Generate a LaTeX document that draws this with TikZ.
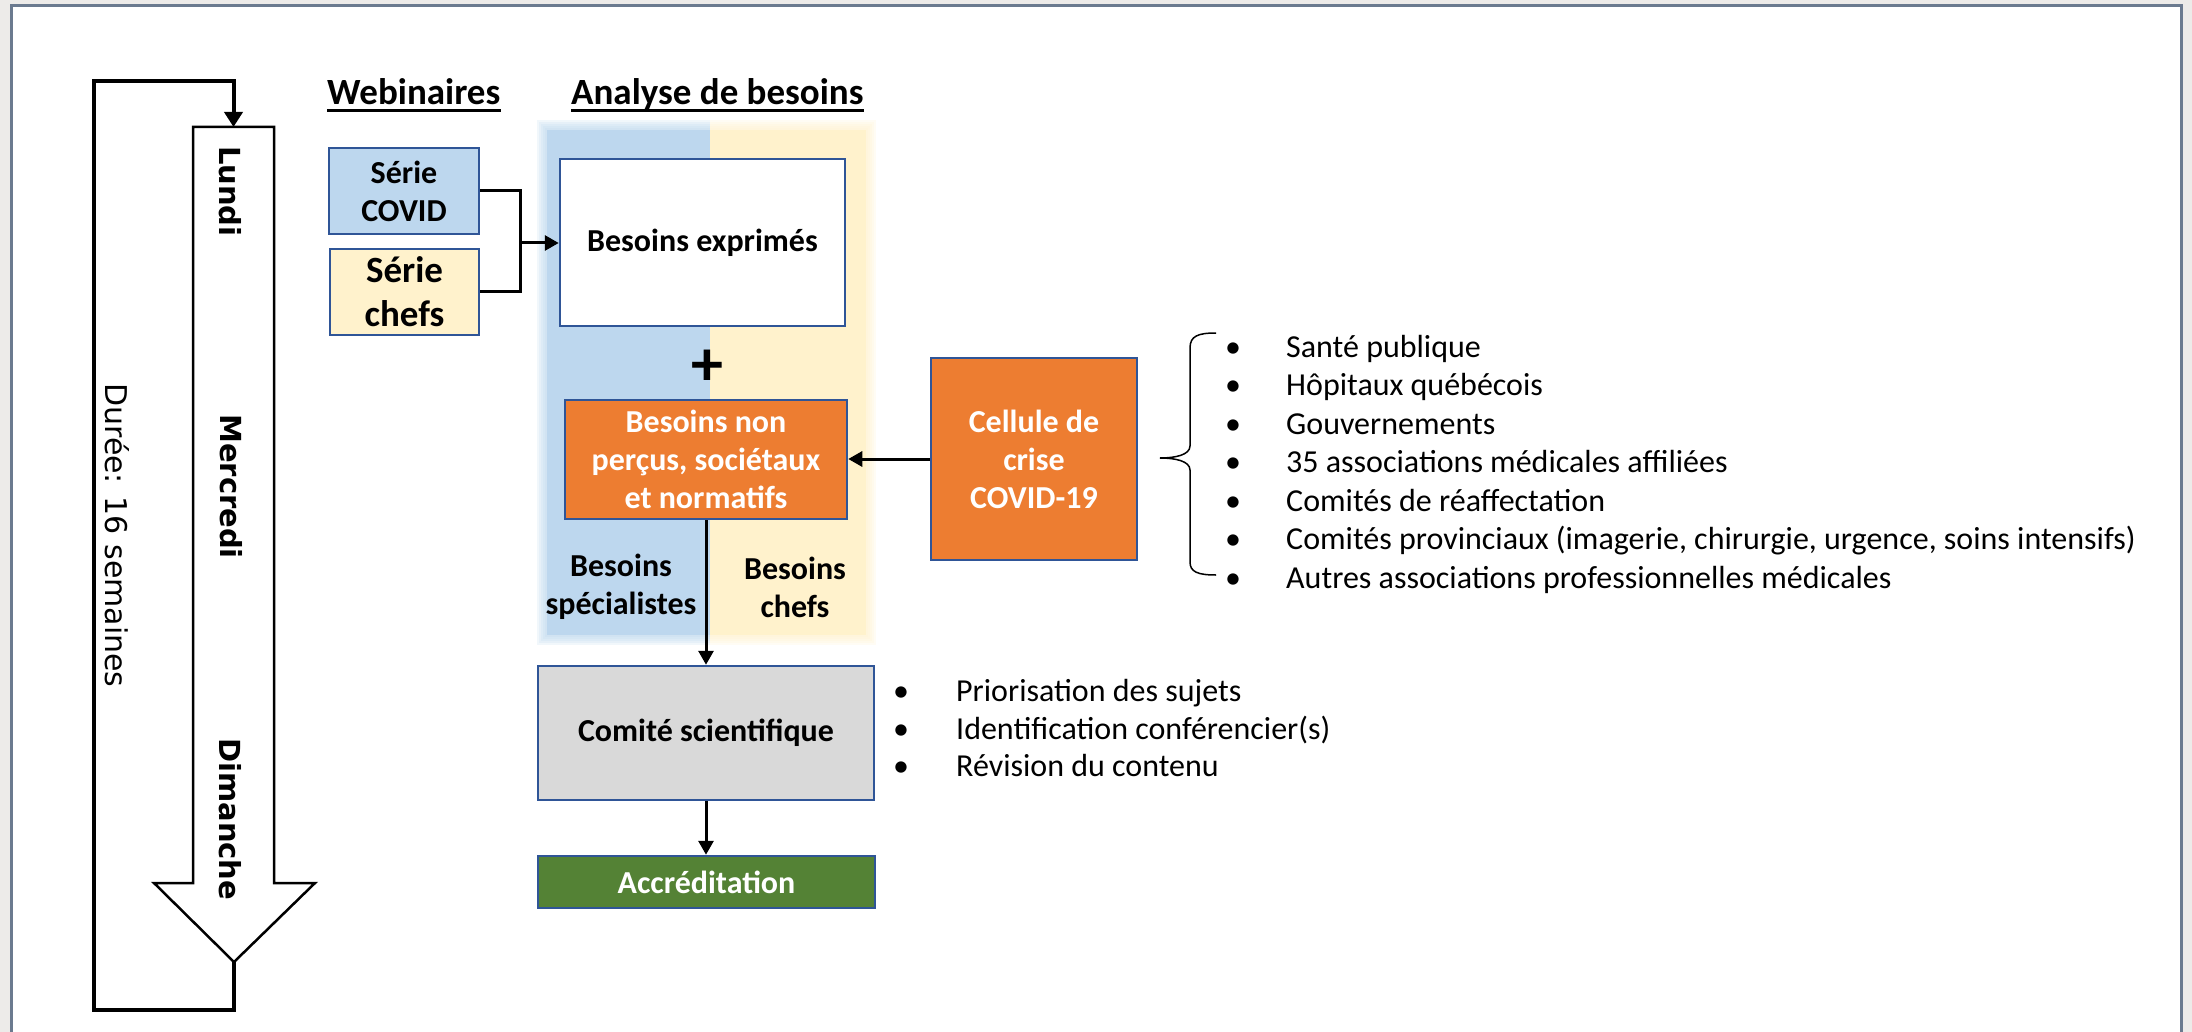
\documentclass[tikz,border=0pt]{standalone}
\usepackage{fontspec}
\setmainfont{Carlito}
\newfontfamily\dvsans{DejaVu Sans}
\usetikzlibrary{arrows.meta}
\definecolor{outsidec}{HTML}{EDEBE9}
\definecolor{framec}{HTML}{6B7A8F}
\definecolor{bandblue}{HTML}{BDD7EE}
\definecolor{bandyellow}{HTML}{FFF2CC}
\definecolor{boxblue}{HTML}{2F5597}
\definecolor{orangef}{HTML}{ED7D31}
\definecolor{grayf}{HTML}{D9D9D9}
\definecolor{greenf}{HTML}{548235}
\begin{document}
\begin{tikzpicture}[x=1pt,y=-1pt,
  box/.style={draw=boxblue, line width=2.5pt, inner sep=0pt, align=center, font=\fontsize{32}{38}\selectfont\bfseries},
  conn/.style={line width=3pt, -{Triangle[width=15pt,length=14pt]}},
  plainline/.style={line width=3pt, line join=miter},
  item/.style={anchor=base west, inner sep=0pt, font=\fontsize{32}{38}\selectfont},
  head/.style={anchor=base west, inner sep=0pt, font=\fontsize{37}{44}\selectfont\bfseries},
  bandtext/.style={inner sep=0pt, align=center, font=\fontsize{32}{38}\selectfont\bfseries},
  day/.style={rotate=-90, anchor=base west, inner sep=0pt, font=\dvsans\bfseries\fontsize{29}{32}\selectfont},
]
\useasboundingbox (0,0) rectangle (2192,1032);
\fill[outsidec] (0,0) rectangle (2192,1032);
\fill[white] (11,6) rectangle (2181,1032);
\draw[framec, line width=3pt] (11,1032) -- (11,6) -- (2181,6) -- (2181,1032);

% analysis band (soft edges)
\foreach \e in {10,8,6,4,2} {
  \fill[bandblue, opacity=0.2] (547-\e,130-\e) rectangle (710,635+\e);
  \fill[bandyellow, opacity=0.2] (710,130-\e) rectangle (866+\e,635+\e);
}
\fill[bandblue] (547,130) rectangle (710,635);
\fill[bandyellow] (710,130) rectangle (866,635);

% headings
\node[head] (web) at (327,105) {Webinaires};
\draw[line width=2.5pt] ([yshift=-5.5pt]web.base west) -- ([yshift=-5.5pt]web.base east);
\node[head] (ana) at (571,105) {Analyse de besoins};
\draw[line width=2.5pt] ([yshift=-5.5pt]ana.base west) -- ([yshift=-5.5pt]ana.base east);

% boxes
\node[box, fill=bandblue, minimum width=150pt, minimum height=86pt] (covid) at (404,191) {Série\\COVID};
\node[box, fill=bandyellow, minimum width=149pt, minimum height=86pt, font=\fontsize{37}{44}\selectfont\bfseries] (chefs) at (404.5,292) {Série\\chefs};
\node[box, fill=white, minimum width=285pt, minimum height=167pt] (expr) at (702.5,242.5) {Besoins exprimés};
\node[box, fill=orangef, text=white, minimum width=282pt, minimum height=119pt] (nonp) at (706,459.5) {Besoins non\\perçus, sociétaux\\et normatifs};
\node[box, fill=orangef, text=white, minimum width=206pt, minimum height=202pt] (cell) at (1034,459) {Cellule de\\crise\\COVID-19};
\node[box, fill=grayf, minimum width=336pt, minimum height=134pt] (comite) at (706,733) {Comité scientifique};
\node[box, fill=greenf, text=white, minimum width=337pt, minimum height=52pt] (accr) at (706.5,882) {Accréditation};

\node[inner sep=0pt, font=\fontsize{64}{64}\selectfont\bfseries] (plus) at (707,368) {+};
\node[bandtext] (spec) at (621,587) {Besoins\\spécialistes};
\node[bandtext] (bchefs) at (795,587) {Besoins\\chefs};

% connectors
\coordinate (j) at (520,243);
\draw[plainline] (covid.east) -| (j);
\draw[plainline] (chefs.east) -| (j);
\draw[conn] (j) -- (j -| expr.west);
\draw[conn] (cell.west) -- (cell.west -| nonp.east);
\draw[conn] (nonp.south) -- (nonp.south |- comite.north);
\draw[conn] (comite.south) -- (comite.south |- accr.north);

% big block arrow and loop
\draw[line width=2.5pt, fill=white, line join=miter] (193,127) -- (274,127) -- (274,883) -- (315,883) -- (234,962) -- (154,883) -- (193,883) -- cycle;
\coordinate (atop) at (233.5,127);
\coordinate (atip) at (234,962);
\draw[line width=4pt, line join=miter, -{Triangle[width=18pt,length=15pt]}] (atip) -- (234,1010) -| (94,81) -| (atop);
\node[day] (lundi) at (219,146) {Lundi};
\node[day] (mercredi) at (220,414) {Mercredi};
\node[day] (dimanche) at (219,738) {Dimanche};
\node[day, font=\dvsans\fontsize{30}{32}\selectfont] (duree) at (105,383) {Durée: 16 semaines};

% brace and list
\draw[line width=1.5pt] (1216,333) .. controls (1198,333) and (1190,336) .. (1190,348) -- (1190,446) .. controls (1190,455) and (1175,458) .. (1160,458) .. controls (1175,458) and (1190,461) .. (1190,470) -- (1190,562) .. controls (1190,572) and (1198,575) .. (1216,575);
\node[item] (l1) at (1226,357) {\hbox to 60pt{\hbox to 14pt{\hss•\hss}\hss}Santé publique};
\node[item] (l2) at (1226,395.5) {\hbox to 60pt{\hbox to 14pt{\hss•\hss}\hss}Hôpitaux québécois};
\node[item] (l3) at (1226,434) {\hbox to 60pt{\hbox to 14pt{\hss•\hss}\hss}Gouvernements};
\node[item] (l4) at (1226,472.5) {\hbox to 60pt{\hbox to 14pt{\hss•\hss}\hss}35 associations médicales affiliées};
\node[item] (l5) at (1226,511) {\hbox to 60pt{\hbox to 14pt{\hss•\hss}\hss}Comités de réaffectation};
\node[item] (l6) at (1226,549.5) {\hbox to 60pt{\hbox to 14pt{\hss•\hss}\hss}Comités provinciaux (imagerie, chirurgie, urgence, soins intensifs)};
\node[item] (l7) at (1226,588) {\hbox to 60pt{\hbox to 14pt{\hss•\hss}\hss}Autres associations professionnelles médicales};

\node[item] (c1) at (894,701.5) {\hbox to 62pt{\hbox to 14pt{\hss•\hss}\hss}Priorisation des sujets};
\node[item] (c2) at (894,739) {\hbox to 62pt{\hbox to 14pt{\hss•\hss}\hss}Identification conférencier(s)};
\node[item] (c3) at (894,776.5) {\hbox to 62pt{\hbox to 14pt{\hss•\hss}\hss}Révision du contenu};
\end{tikzpicture}
\end{document}
